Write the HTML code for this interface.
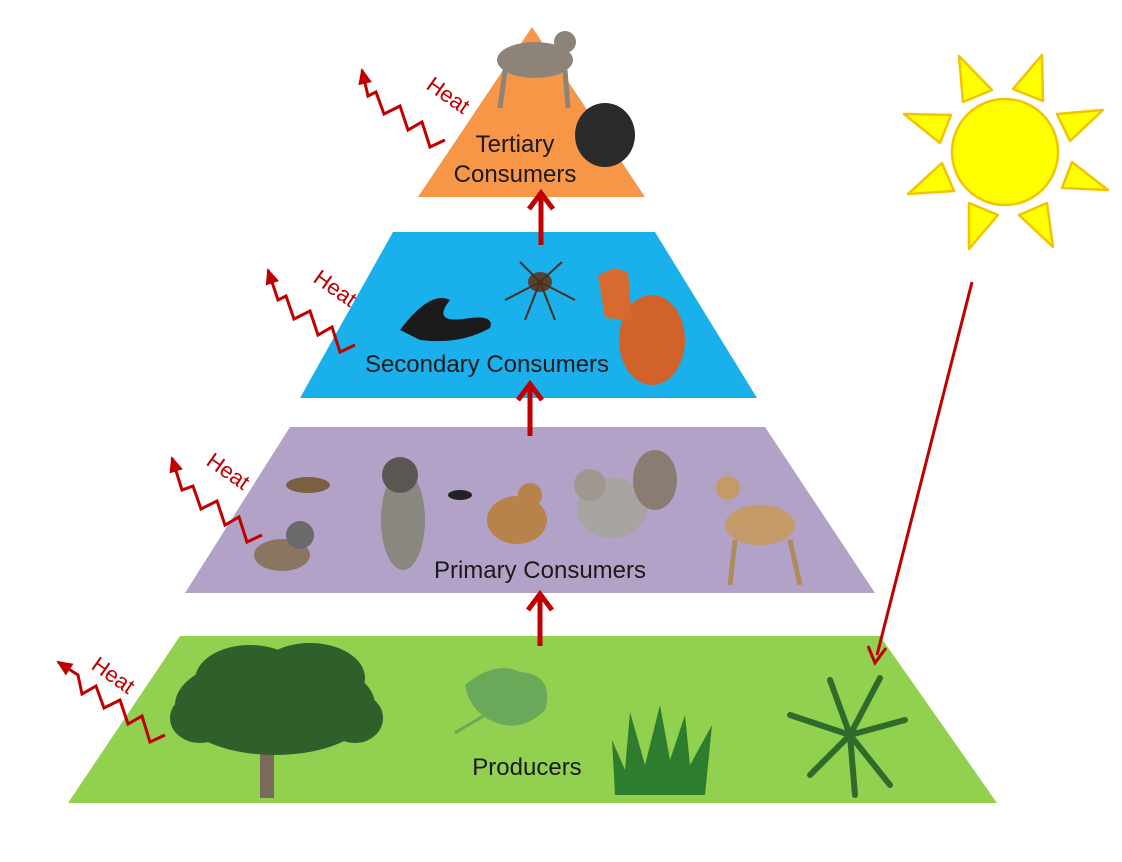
<!DOCTYPE html>
<html><head><meta charset="utf-8"><style>
html,body{margin:0;padding:0;background:#fff;}
svg{display:block;}
text{font-family:"Liberation Sans",sans-serif;}
</style></head><body>
<svg width="1122" height="862" viewBox="0 0 1122 862" xmlns="http://www.w3.org/2000/svg">
<defs>
<marker id="ah" markerWidth="16" markerHeight="14" refX="14" refY="7" orient="auto" markerUnits="userSpaceOnUse">
<path d="M0,0 L16,7 L0,14 z" fill="#c00000"/></marker>
</defs>
<!-- levels -->
<polygon points="180,636 880,636 997,803 68,803" fill="#92d050"/>
<polygon points="290,427 765,427 875,593 185,593" fill="#b2a2c7"/>
<polygon points="393,232 655,232 757,398 300,398" fill="#1ab0ec"/>
<polygon points="532,27 645,197 418,197" fill="#f79646"/>
<!-- vertical arrows -->
<g stroke="#c00000" stroke-width="5" fill="none">
<line x1="540" y1="646" x2="540" y2="596"/><polyline points="528,610 540,594 552,610"/>
<line x1="530" y1="436" x2="530" y2="386"/><polyline points="518,400 530,384 542,400"/>
<line x1="541" y1="245" x2="541" y2="195"/><polyline points="529,209 541,193 553,209"/>
</g>
<!-- sun arrow -->
<line x1="972" y1="282" x2="877" y2="655" stroke="#c00000" stroke-width="3"/>
<polyline points="868,646 875,663 886,648" fill="none" stroke="#c00000" stroke-width="3"/>
<!-- sun -->
<g fill="#ffff00" stroke="#f2c400" stroke-width="2.5" stroke-linejoin="round">
<circle cx="1005" cy="152" r="53"/>
<polygon points="959,56 992,90 963,102"/>
<polygon points="1042,55 1013,89 1043,101"/>
<polygon points="904,114 951,115 940,143"/>
<polygon points="1103,110 1057,114 1070,141"/>
<polygon points="942,163 954,191 908,194"/>
<polygon points="1072,162 1062,188 1108,190"/>
<polygon points="969,203 998,215 969,249"/>
<polygon points="1047,203 1019,215 1053,247"/>
</g>
<!-- heat squiggles -->
<g fill="none" stroke="#c00000" stroke-width="3" stroke-linejoin="miter" marker-end="url(#ah)">
<polyline points="165,735 150,742 142,716 128,724 120,700 104,708 96,686 82,694 78,675 58,662"/>
<polyline points="445,140 430,147 422,122 408,130 400,106 384,114 376,92 368,96 362,70"/>
<polyline points="355,345 340,352 332,327 318,335 310,311 294,319 286,296 278,300 268,270"/>
<polyline points="262,535 247,542 239,517 225,525 217,501 201,509 193,486 182,490 172,458"/>
</g>
<g fill="#c00000" font-size="22">
<text transform="translate(90,668) rotate(35)">Heat</text>
<text transform="translate(425,88) rotate(35)">Heat</text>
<text transform="translate(312,281) rotate(35)">Heat</text>
<text transform="translate(205,464) rotate(35)">Heat</text>
</g>
<!-- producers images -->
<rect x="260" y="730" width="14" height="68" fill="#7a6a5a"/>
<g fill="#2f5f2a">
<ellipse cx="275" cy="705" rx="100" ry="50"/>
<ellipse cx="250" cy="680" rx="55" ry="35"/>
<ellipse cx="310" cy="678" rx="55" ry="35"/>
<ellipse cx="200" cy="718" rx="30" ry="25"/>
<ellipse cx="355" cy="718" rx="28" ry="25"/>
</g>
<path d="M465,685 Q495,660 520,672 Q555,675 545,710 Q520,735 490,720 Q470,710 465,685z" fill="#6aa85a"/>
<line x1="455" y1="733" x2="490" y2="712" stroke="#6aa85a" stroke-width="3"/>
<path d="M615,795 L612,740 L625,770 L630,712 L645,765 L660,705 L670,760 L685,715 L690,765 L712,725 L705,795 Z" fill="#2e7d2e"/>
<g stroke="#2f6b2a" stroke-width="6" stroke-linecap="round">
<line x1="850" y1="735" x2="790" y2="715"/><line x1="850" y1="735" x2="830" y2="680"/>
<line x1="850" y1="735" x2="880" y2="678"/><line x1="850" y1="735" x2="905" y2="720"/>
<line x1="850" y1="735" x2="810" y2="775"/><line x1="850" y1="735" x2="890" y2="785"/>
<line x1="850" y1="735" x2="855" y2="795"/>
</g>
<!-- primary consumers -->
<ellipse cx="308" cy="485" rx="22" ry="8" fill="#7a6040"/>
<ellipse cx="282" cy="555" rx="28" ry="16" fill="#8a7560"/>
<circle cx="300" cy="535" r="14" fill="#6a6a6a"/>
<ellipse cx="403" cy="520" rx="22" ry="50" fill="#8a8680"/>
<circle cx="400" cy="475" r="18" fill="#5a5652"/>
<ellipse cx="460" cy="495" rx="12" ry="5" fill="#222"/>
<ellipse cx="517" cy="520" rx="30" ry="24" fill="#b8834a"/>
<circle cx="530" cy="495" r="12" fill="#b8834a"/>
<ellipse cx="612" cy="508" rx="35" ry="30" fill="#a8a4a0"/>
<ellipse cx="655" cy="480" rx="22" ry="30" fill="#8a7c70"/>
<circle cx="590" cy="485" r="16" fill="#a09890"/>
<ellipse cx="760" cy="525" rx="35" ry="20" fill="#c49a68"/>
<circle cx="728" cy="488" r="12" fill="#c49a68"/>
<g stroke="#b08a5a" stroke-width="5"><line x1="735" y1="540" x2="730" y2="585"/><line x1="790" y1="540" x2="800" y2="585"/></g>
<!-- secondary consumers -->
<path d="M400,330 Q430,290 450,300 Q430,325 470,318 Q495,315 490,328 Q460,345 420,340 Z" fill="#1a1a1a"/>
<ellipse cx="540" cy="282" rx="12" ry="10" fill="#5a4030"/>
<g stroke="#4a3020" stroke-width="2"><line x1="540" y1="282" x2="505" y2="300"/><line x1="540" y1="282" x2="575" y2="300"/><line x1="540" y1="282" x2="520" y2="262"/><line x1="540" y1="282" x2="562" y2="262"/><line x1="540" y1="282" x2="525" y2="320"/><line x1="540" y1="282" x2="555" y2="320"/></g>
<ellipse cx="652" cy="340" rx="33" ry="45" fill="#d0622a"/>
<path d="M598,275 L615,268 L628,272 L632,320 L605,318 Z" fill="#d86a30"/>
<!-- tertiary -->
<ellipse cx="535" cy="60" rx="38" ry="18" fill="#8c8478"/>
<circle cx="565" cy="42" r="11" fill="#8c8478"/>
<g stroke="#8c8478" stroke-width="5"><line x1="505" y1="70" x2="500" y2="108"/><line x1="565" y1="70" x2="568" y2="108"/></g>
<ellipse cx="605" cy="135" rx="30" ry="32" fill="#2a2a2a"/>
<!-- labels -->
<g fill="#1a1a1a" font-size="24" text-anchor="middle">
<text x="515" y="152">Tertiary</text>
<text x="515" y="182">Consumers</text>
<text x="487" y="372">Secondary Consumers</text>
<text x="540" y="578">Primary Consumers</text>
<text x="527" y="775">Producers</text>
</g>
</svg>
</body></html>
